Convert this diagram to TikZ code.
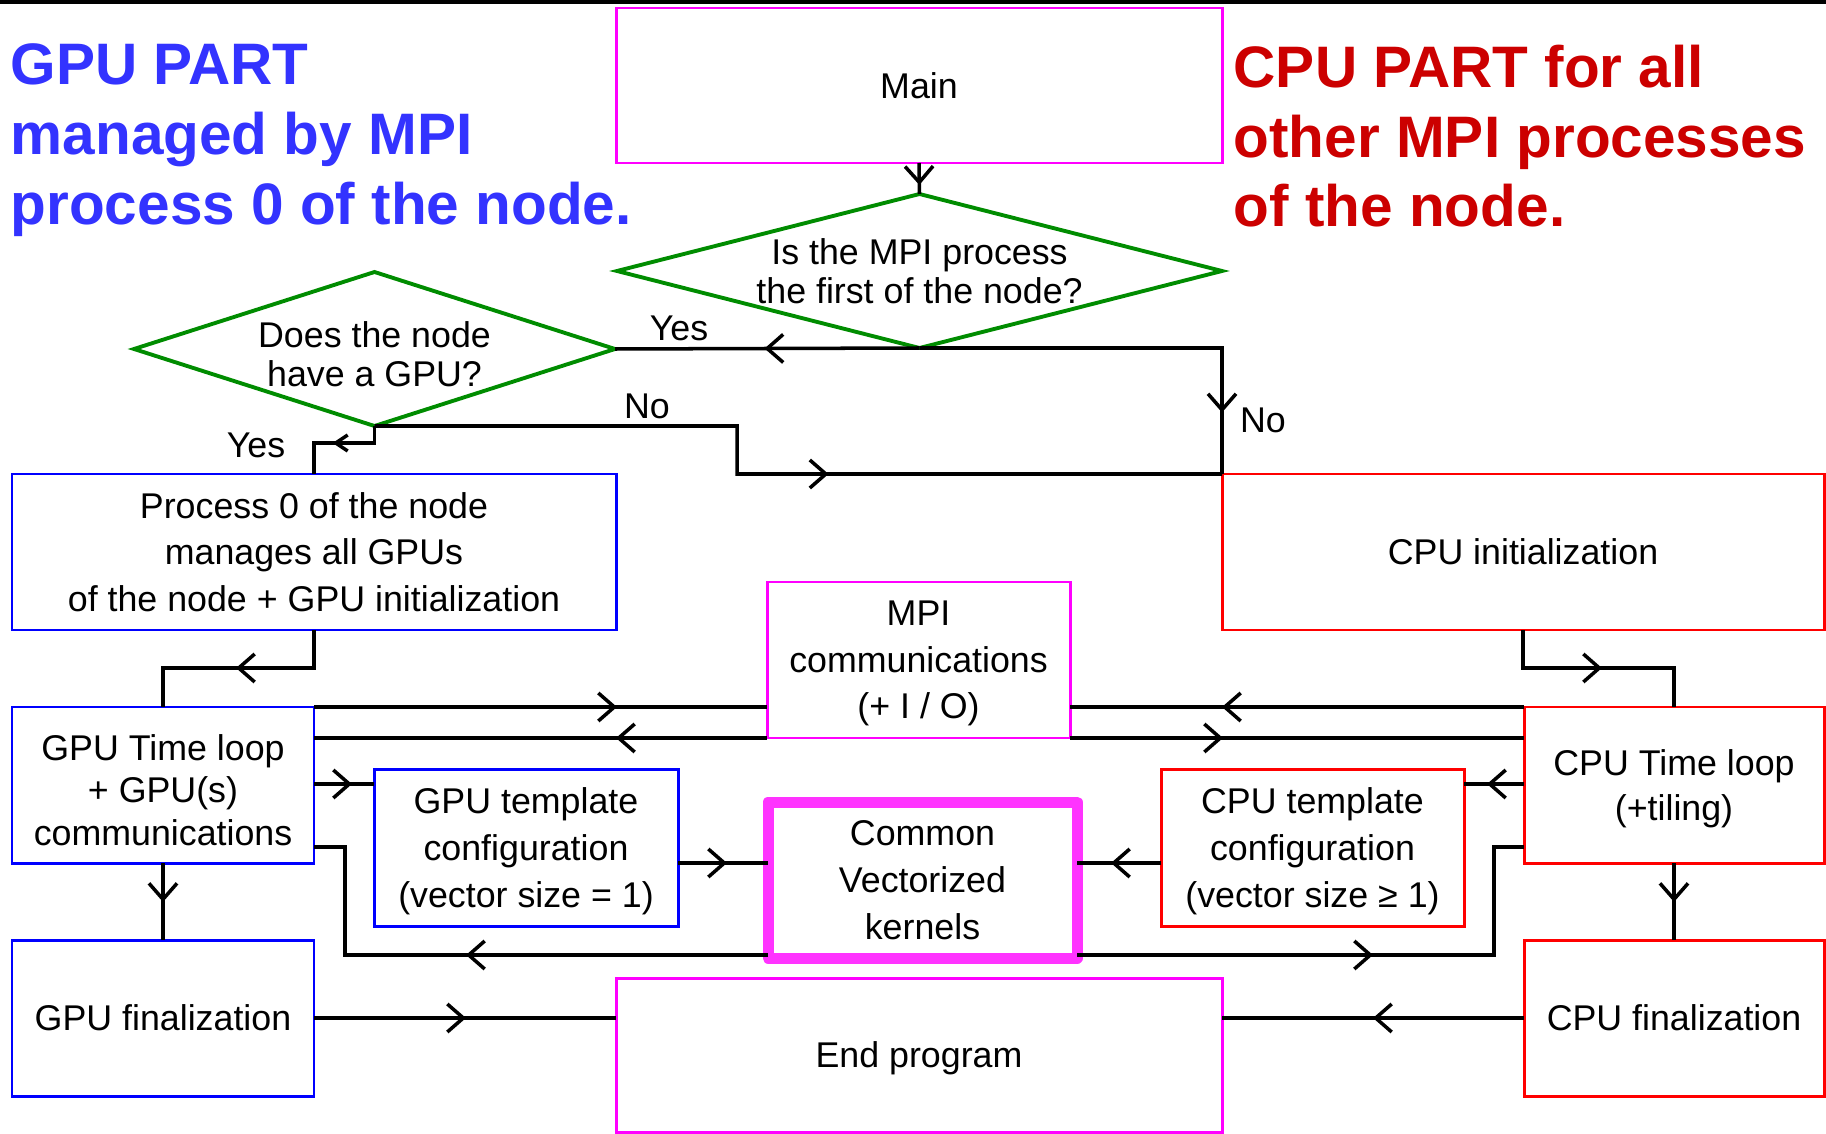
\documentclass[tikz,border=0pt]{standalone}
\usepackage{fontspec}
\setmainfont{Liberation Sans}
\usetikzlibrary{shapes.geometric,arrows.meta,decorations.markings}
\definecolor{dgreen}{RGB}{0,140,0}
\definecolor{hblue}{RGB}{51,51,255}
\definecolor{hred}{RGB}{204,0,0}
\definecolor{cmag}{RGB}{255,51,255}
\definecolor{pmag}{RGB}{255,0,255}
\tikzset{
  box/.style={draw, line width=0.85pt, inner sep=0pt, outer sep=0pt, align=center,
    text depth=0pt, font=\fontsize{10.18}{13.26}\selectfont},
  gbox/.style={box, draw=blue},
  rbox/.style={box, draw=red},
  mbox/.style={box, draw=pmag},
  dia/.style={diamond, draw=dgreen, line width=1.1pt, inner sep=0pt, outer sep=0pt,
    align=center, font=\fontsize{10.18}{11.1}\selectfont},
  conn/.style={line width=1pt},
  arr/.style={postaction={decorate, decoration={markings,
    mark=at position #1 with {\arrow{Straight Barb[length=1.6mm,width=2.8mm]}}}}},
  arrsmall/.style={postaction={decorate, decoration={markings,
    mark=at position #1 with {\arrow{Straight Barb[length=1.2mm,width=1.6mm]}}}}},
  lab/.style={inner sep=0pt, font=\fontsize{10.18}{12}\selectfont},
  headb/.style={inner sep=0pt, align=left, text=hblue, font=\fontsize{16.65}{19.9}\selectfont\bfseries},
  headr/.style={inner sep=0pt, align=left, text=hred, font=\fontsize{16.65}{19.9}\selectfont\bfseries},
}
\begin{document}
\begin{tikzpicture}[x=0.1mm,y=-0.1mm]
\useasboundingbox (0,0) rectangle (1826,1134);
\draw[line width=0.4mm] (0,2) -- (1826,2);

% headings
\node[headb, anchor=north west] (gpuh) at (10,43) {GPU PART\\managed by MPI\\process 0 of the node.};
\node[headr, anchor=north west] (cpuh) at (1233,44) {CPU PART for all\\other MPI processes\\of the node.};

% boxes
\node[mbox, minimum width=60.6mm, minimum height=15.5mm] (main) at (919,85.5) {Main};
\node[dia, shape aspect=3.9, minimum width=60.5mm, minimum height=15.4mm] (d1) at (919.5,271) {Is the MPI process\\the first of the node?};
\node[dia, shape aspect=3.1, minimum width=48.1mm, minimum height=15.4mm] (d2) at (374.5,349) {\rule{0pt}{10.3pt}Does the node\\have a GPU?};
\node[gbox, minimum width=60.4mm, minimum height=15.6mm] (proc0) at (314,552) {Process 0 of the node\\manages all GPUs\\of the node + GPU initialization};
\node[rbox, minimum width=60.2mm, minimum height=15.6mm] (cinit) at (1523,552) {CPU initialization};
\node[mbox, minimum width=30.3mm, minimum height=15.6mm] (mpi) at (918.5,660) {MPI\\communications\\(+ I / O)};
\node[gbox, minimum width=30.2mm, minimum height=15.6mm, font=\fontsize{10.18}{12.1}\selectfont] (gtl) at (163,785) {\rule{0pt}{10.1pt}GPU Time loop\\+ GPU(s)\\communications};
\node[rbox, minimum width=30.0mm, minimum height=15.6mm, font=\fontsize{10.18}{12.9}\selectfont] (ctl) at (1674,785) {CPU Time loop\\(+tiling)};
\node[gbox, minimum width=30.4mm, minimum height=15.7mm] (gtp) at (526,847.5) {GPU template\\configuration\\(vector size = 1)};
\node[rbox, minimum width=30.3mm, minimum height=15.7mm] (ctp) at (1312.5,847.5) {CPU template\\configuration\\(vector size ≥ 1)};
\node[box, draw=cmag, line width=1.1mm, line join=round, minimum width=30.9mm, minimum height=15.6mm] (common) at (922.5,880) {Common\\Vectorized\\kernels};
\node[gbox, minimum width=30.2mm, minimum height=15.6mm] (gfin) at (163,1018) {GPU finalization};
\node[rbox, minimum width=30.0mm, minimum height=15.6mm] (cfin) at (1674,1018) {CPU finalization};
\node[mbox, minimum width=60.6mm, minimum height=15.4mm] (endp) at (919,1055) {End program};

% labels
\node[lab] (yes1) at (679,328) {Yes};
\node[lab] (no1) at (1263,420) {No};
\node[lab] (no2) at (647,406) {No};
\node[lab] (yes2) at (256,445) {Yes};

% connectors
\draw[conn, arr=2.2mm] (main.south) -- (d1.north);
\draw[conn, arr=15.5mm] (d1.south) -- (d2.east);
\draw[conn, arr=36.7mm] (d1.south) -| (cinit.north west);
\draw[conn, arr=50.2mm] (d2.south) -| (737,474) -- (cinit.north west);
\draw[conn, arrsmall=5.9mm] (d2.south) -- ++(0,17) -| (proc0.north);
\draw[conn, arr=11.6mm] (proc0.south) -- ++(0,38) -| (gtl.north);
\draw[conn, arr=11.7mm] (cinit.south) -- ++(0,38) -| (ctl.north);
\draw[conn, arr=30.3mm] (gtl.north east) -- (mpi.west |- gtl.north);
\draw[conn, arr=15.1mm] (mpi.south west) -- (gtl.east |- mpi.south);
\draw[conn, arr=30.2mm] (ctl.north west) -- (mpi.east |- ctl.north);
\draw[conn, arr=15.3mm] (mpi.south east) -- (ctl.west |- mpi.south);
\draw[conn, arr=3.8mm] (gtl.east |- 0,784) -- (gtp.west |- 0,784);
\draw[conn, arr=4.9mm] (gtp.east |- 0,863) -- (common.west |- 0,863);
\draw[conn, arr=30.2mm] (common.west |- 0,955) -- (345,955) |- (gtl.east |- 0,847);
\draw[conn, arr=29.6mm] (common.east |- 0,955) -- (1494,955) |- (ctl.west |- 0,847);
\draw[conn, arr=3.7mm] (ctl.west |- 0,784) -- (ctp.east |- 0,784);
\draw[conn, arr=5mm] (ctp.west |- 0,863) -- (common.east |- 0,863);
\draw[conn, arr=3.9mm] (gtl.south) -- (gfin.north);
\draw[conn, arr=3.9mm] (ctl.south) -- (cfin.north);
\draw[conn, arr=15.2mm] (gfin.east) -- (endp.west |- gfin.east);
\draw[conn, arr=15.1mm] (cfin.west) -- (endp.east |- cfin.west);
\end{tikzpicture}
\end{document}
